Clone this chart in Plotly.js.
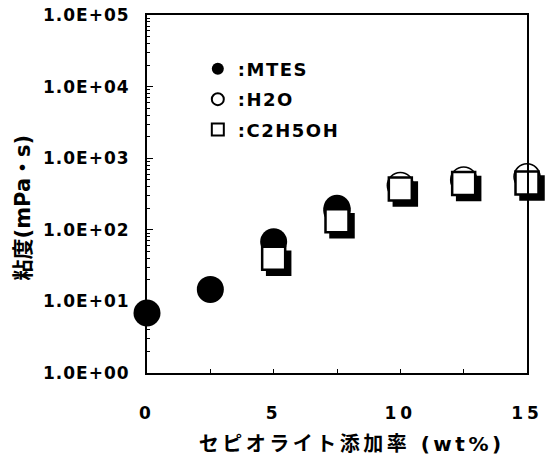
<!DOCTYPE html>
<html>
<head>
<meta charset="utf-8">
<script src="https://cdn.plot.ly/plotly-3.0.1.min.js"></script>
<style>
  html, body { margin: 0; padding: 0; background: #fff; }
  #chart { width: 547px; height: 461px; }
  .yaxislayer-above text { letter-spacing: 1px; }
  .xaxislayer-above text { letter-spacing: 4px; }
  .legendtext { letter-spacing: 1.5px; }
  g.annotation[data-index="0"] text { letter-spacing: 3.5px; }
</style>
</head>
<body>
<div id="chart"></div>
<script>
// ---- data ----
const seriesNames = [':MTES', ':H2O', ':C2H5OH'];
const xMTES = [0, 2.5, 5, 7.5];
const yMTES = [6.9, 14.7, 68, 200];
const xH2O = [7.5, 10, 12.5, 15];
const yH2O = [185, 415, 496, 550];
const xEtOH = [5, 7.5, 10, 12.5, 15];
const yEtOH = [40, 134, 372, 444, 450];
const xTickVals = [0, 5, 10, 15];
const xTickText = ['0', '5', '10', '15'];
const yTickVals = [1, 10, 100, 1000, 10000, 100000];
const yTickText = ['1.0E+00', '1.0E+01', '1.0E+02', '1.0E+03', '1.0E+04', '1.0E+05'];
const xTitle = 'セピオライト添加率 (wt%)';
const yTitle = '粘度(mPa・s)';

const FONT = 'DejaVu Sans, Noto Sans CJK JP, sans-serif';

const traces = [
  { // square shadow (drawn on a slightly shifted copy of the axes)
    x: xEtOH, y: yEtOH, xaxis: 'x', yaxis: 'y', type: 'scatter', mode: 'markers',
    showlegend: false, hoverinfo: 'skip', cliponaxis: false,
    marker: { symbol: 'square', size: 23, color: '#000', line: { color: '#000', width: 2.5 } }
  },
  {
    name: seriesNames[1], x: xH2O, y: yH2O, xaxis: 'x2', yaxis: 'y2', type: 'scatter', mode: 'markers',
    legendrank: 2, legendgroup: 'b', cliponaxis: false,
    marker: { symbol: 'circle', size: 26, color: '#fff', line: { color: '#000', width: 1.5 } }
  },
  {
    name: seriesNames[0], x: xMTES, y: yMTES, xaxis: 'x2', yaxis: 'y2', type: 'scatter', mode: 'markers',
    legendrank: 1, legendgroup: 'a', cliponaxis: false,
    marker: { symbol: 'circle', size: 27, color: '#000', line: { color: '#000', width: 0 } }
  },
  {
    name: seriesNames[2], x: xEtOH, y: yEtOH, xaxis: 'x2', yaxis: 'y2', type: 'scatter', mode: 'markers',
    legendrank: 3, legendgroup: 'c', cliponaxis: false,
    marker: { symbol: 'square', size: 23, color: '#fff', line: { color: '#000', width: 2.5 } }
  }
];

const W = 385, H = 363, OFF = 5;

const layout = {
  width: 547, height: 461,
  margin: { l: 147, r: 15, t: 15, b: 83 },
  paper_bgcolor: '#fff',
  plot_bgcolor: 'rgba(0,0,0,0)',
  showlegend: true,
  font: { family: FONT, color: '#000', size: 17, weight: 'bold' },
  xaxis: { domain: [OFF / W, 1], range: [0, 15], visible: false, anchor: 'y', fixedrange: true },
  yaxis: { domain: [0, (H - OFF) / H], type: 'log', range: [0, 5], visible: false, anchor: 'x', fixedrange: true },
  xaxis2: {
    domain: [0, (W - OFF) / W], range: [0, 15], anchor: 'y2',
    showline: true, linecolor: '#000', linewidth: 2, mirror: true,
    showgrid: false, zeroline: false,
    tickmode: 'array', tickvals: xTickVals, ticktext: xTickText,
    ticks: 'inside', ticklen: 4, tickwidth: 1, tickcolor: '#000',
    minor: { tickmode: 'linear', tick0: 0, dtick: 2.5, ticks: 'inside', ticklen: 4, tickwidth: 1, tickcolor: '#000', showgrid: false },
    ticklabelstandoff: 24,
    tickfont: { family: FONT, size: 17, color: '#000', weight: 'bold' }
  },
  yaxis2: {
    domain: [OFF / H, 1], type: 'log', range: [0, 5], anchor: 'x2',
    showline: true, linecolor: '#000', linewidth: 2, mirror: true,
    showgrid: false, zeroline: false,
    tickmode: 'array', tickvals: yTickVals, ticktext: yTickText,
    ticks: 'inside', ticklen: 6, tickwidth: 1, tickcolor: '#000',
    minor: { tickmode: 'linear', dtick: 'D1', ticks: 'inside', ticklen: 3, tickwidth: 1, tickcolor: '#000', showgrid: false },
    ticklabelstandoff: 12,
    tickfont: { family: FONT, size: 17, color: '#000', weight: 'bold' }
  },
  legend: {
    x: 0.132, y: 0.902, xanchor: 'left', yanchor: 'top',
    bgcolor: 'rgba(0,0,0,0)', borderwidth: 0,
    itemsizing: 'constant', tracegroupgap: 4,
    font: { family: FONT, size: 18, color: '#000', weight: 'bold' }
  },
  annotations: [
    { text: xTitle, xref: 'paper', yref: 'paper', x: 0.532, y: -0.182, xanchor: 'center', yanchor: 'middle',
      showarrow: false, font: { family: FONT, size: 20, color: '#000', weight: 'bold' } },
    { text: yTitle, xref: 'paper', yref: 'paper', x: -0.322, y: 0.47, xanchor: 'center', yanchor: 'middle',
      textangle: -90, showarrow: false, font: { family: FONT, size: 21, color: '#000', weight: 'bold' } }
  ]
};

Plotly.newPlot('chart', traces, layout, { displayModeBar: false, staticPlot: true });
</script>
</body>
</html>
